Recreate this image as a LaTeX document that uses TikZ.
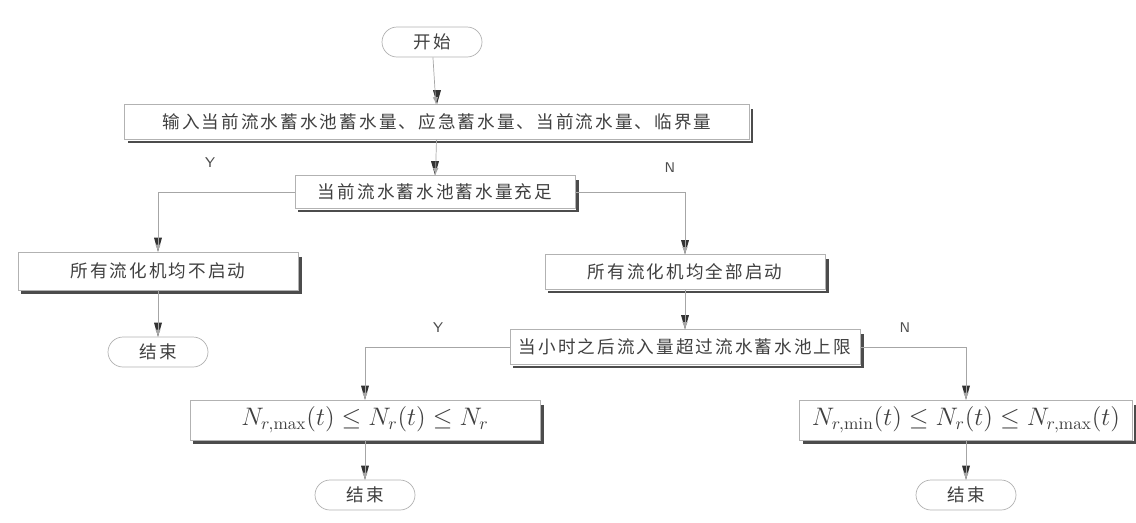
\documentclass[tikz,border=0pt]{standalone}
\usepackage{fontspec}
\usepackage{amsmath}
\newfontfamily\cjk{Noto Sans CJK SC}[LetterSpace=12]
\tikzset{
    etape/.style={draw=gray!60, fill=white, inner sep=0pt, minimum height=0.7cm,
      font=\cjk\fontsize{10}{12}\selectfont, text=black!75},
    borne/.style={draw=gray!60, fill=white, rounded corners=0.3cm, minimum width=2cm,
      minimum height=0.6cm, font=\cjk\fontsize{10}{12}\selectfont, text=black!75},
    formule/.style={etape, minimum height=0.8cm, font=\fontsize{14}{16}\selectfont},
    ombre/.style={black!70, line width=1.3pt},
    fleche/.style={gray!70, -latex},
    pointe/.style={fill=black!80},
    oui/.style={font=\sffamily\footnotesize, text=black!70},
  }
\begin{document}
\begin{tikzpicture}
      \useasboundingbox (0,0) rectangle (22.72,-10.44);
      %DEBUT et donnees
      \node[borne] (debut) at (8.64,-0.84) {开始};
      \node[etape, minimum width=12.5cm] (entree) at (8.74,-2.44)
        {输入当前流水蓄水池蓄水量、应急蓄水量、当前流水量、临界量};
      \node[etape, minimum width=5.6cm, minimum height=0.66cm] (test1) at (8.7,-3.84)
        {当前流水蓄水池蓄水量充足};
      %branches du premier test
      \node[etape, minimum width=5.6cm, minimum height=0.76cm] (arret) at (3.16,-5.42)
        {所有流化机均不启动};
      \node[etape, minimum width=5.6cm] (marche) at (13.7,-5.44)
        {所有流化机均全部启动};
      \node[borne] (fin1) at (3.16,-7.04) {结束};
      \node[oui] (y1) at (4.2,-3.26) {Y};
      \node[oui] (n1) at (13.4,-3.36) {N};
      %second test
      \node[etape, minimum width=7cm] (test2) at (13.7,-6.94)
        {当小时之后流入量超过流水蓄水池上限};
      \node[formule, minimum width=7cm] (borneA) at (7.3,-8.4)
        {$N_{r,\max}(t)\leq N_r(t)\leq N_r$};
      \node[formule, minimum width=6.66cm] (borneB) at (19.32,-8.4)
        {$N_{r,\min}(t)\leq N_r(t)\leq N_{r,\max}(t)$};
      \node[borne] (fin2) at (7.3,-9.9) {结束};
      \node[borne] (fin3) at (19.32,-9.9) {结束};
      \node[oui] (y2) at (8.76,-6.56) {Y};
      \node[oui] (n2) at (18.1,-6.56) {N};

      %pointes
      \foreach \n in {entree,test1,arret,marche,fin1,test2,borneA,borneB,fin2,fin3}
        \path[pointe] (\n.north) -- ++(-0.08,0.28) -- ++(0.16,0) -- cycle;

      %ombres des cadres
      \foreach \n in {entree,test1,arret,marche,test2,borneA,borneB}
        \draw[ombre] ([xshift=1.2pt,yshift=-3pt]\n.north east) |- ([xshift=2pt,yshift=-1.2pt]\n.south west);

      %FLECHES
      \draw[fleche] (debut) -- (entree);
      \draw[fleche] (entree) -- (test1);
      \draw[fleche] (test1.west) -| (arret.north);
      \draw[fleche] (test1.east) -| (marche.north);
      \draw[fleche] (arret) -- (fin1);
      \draw[fleche] (marche) -- (test2);
      \draw[fleche] (test2.west) -| (borneA.north);
      \draw[fleche] (test2.east) -| (borneB.north);
      \draw[fleche] (borneA) -- (fin2);
      \draw[fleche] (borneB) -- (fin3);
\end{tikzpicture}
\end{document}
